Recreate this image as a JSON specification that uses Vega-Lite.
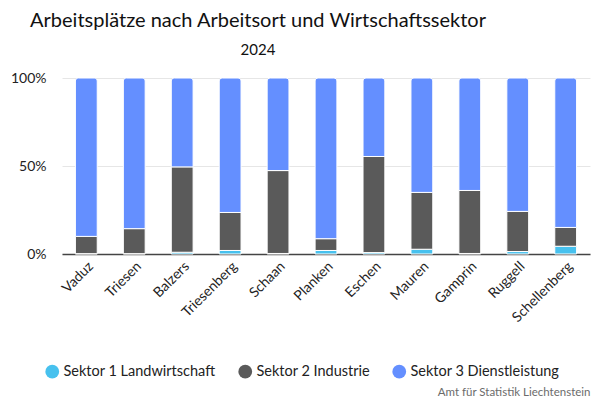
{
  "$schema": "https://vega.github.io/schema/vega-lite/v6.json",
  "background": "white",
  "padding": {"left": 9, "right": 6, "top": 10, "bottom": 1},
  "config": {
    "view": {"stroke": "transparent"},
    "font": "Lato"
  },
  "title": {
    "text": "Amt für Statistik Liechtenstein",
    "orient": "bottom",
    "anchor": "end",
    "fontSize": 11.5,
    "fontWeight": "normal",
    "color": "#6b6b6b",
    "offset": 8
  },
  "data": {
    "values": [
      {"ort": "Vaduz", "sektor": "Sektor 1 Landwirtschaft", "anteil": 0.2},
      {"ort": "Vaduz", "sektor": "Sektor 2 Industrie", "anteil": 9.8},
      {"ort": "Vaduz", "sektor": "Sektor 3 Dienstleistung", "anteil": 90.0},
      {"ort": "Triesen", "sektor": "Sektor 1 Landwirtschaft", "anteil": 0.2},
      {"ort": "Triesen", "sektor": "Sektor 2 Industrie", "anteil": 14.2},
      {"ort": "Triesen", "sektor": "Sektor 3 Dienstleistung", "anteil": 85.6},
      {"ort": "Balzers", "sektor": "Sektor 1 Landwirtschaft", "anteil": 1.0},
      {"ort": "Balzers", "sektor": "Sektor 2 Industrie", "anteil": 48.5},
      {"ort": "Balzers", "sektor": "Sektor 3 Dienstleistung", "anteil": 50.5},
      {"ort": "Triesenberg", "sektor": "Sektor 1 Landwirtschaft", "anteil": 2.0},
      {"ort": "Triesenberg", "sektor": "Sektor 2 Industrie", "anteil": 21.6},
      {"ort": "Triesenberg", "sektor": "Sektor 3 Dienstleistung", "anteil": 76.4},
      {"ort": "Schaan", "sektor": "Sektor 1 Landwirtschaft", "anteil": 0.3},
      {"ort": "Schaan", "sektor": "Sektor 2 Industrie", "anteil": 47.1},
      {"ort": "Schaan", "sektor": "Sektor 3 Dienstleistung", "anteil": 52.6},
      {"ort": "Planken", "sektor": "Sektor 1 Landwirtschaft", "anteil": 2.0},
      {"ort": "Planken", "sektor": "Sektor 2 Industrie", "anteil": 6.7},
      {"ort": "Planken", "sektor": "Sektor 3 Dienstleistung", "anteil": 91.3},
      {"ort": "Eschen", "sektor": "Sektor 1 Landwirtschaft", "anteil": 0.8},
      {"ort": "Eschen", "sektor": "Sektor 2 Industrie", "anteil": 54.6},
      {"ort": "Eschen", "sektor": "Sektor 3 Dienstleistung", "anteil": 44.6},
      {"ort": "Mauren", "sektor": "Sektor 1 Landwirtschaft", "anteil": 2.7},
      {"ort": "Mauren", "sektor": "Sektor 2 Industrie", "anteil": 32.3},
      {"ort": "Mauren", "sektor": "Sektor 3 Dienstleistung", "anteil": 65.0},
      {"ort": "Gamprin", "sektor": "Sektor 1 Landwirtschaft", "anteil": 0.3},
      {"ort": "Gamprin", "sektor": "Sektor 2 Industrie", "anteil": 35.8},
      {"ort": "Gamprin", "sektor": "Sektor 3 Dienstleistung", "anteil": 63.9},
      {"ort": "Ruggell", "sektor": "Sektor 1 Landwirtschaft", "anteil": 1.4},
      {"ort": "Ruggell", "sektor": "Sektor 2 Industrie", "anteil": 22.8},
      {"ort": "Ruggell", "sektor": "Sektor 3 Dienstleistung", "anteil": 75.8},
      {"ort": "Schellenberg", "sektor": "Sektor 1 Landwirtschaft", "anteil": 4.4},
      {"ort": "Schellenberg", "sektor": "Sektor 2 Industrie", "anteil": 10.7},
      {"ort": "Schellenberg", "sektor": "Sektor 3 Dienstleistung", "anteil": 84.9}
    ]
  },
  "vconcat": [
    {
      "width": 528,
      "height": 176,
      "title": {
        "text": "Arbeitsplätze nach Arbeitsort und Wirtschaftssektor",
        "subtitle": "2024",
        "anchor": "middle",
        "frame": "group",
        "dx": -68,
        "fontSize": 20,
        "fontWeight": "normal",
        "color": "#111111",
        "subtitleFontSize": 15,
        "subtitleColor": "#111111",
        "subtitlePadding": 12,
        "offset": 13
      },
      "transform": [
        {
          "stack": "anteil",
          "groupby": ["ort"],
          "sort": [{"field": "sektor", "order": "ascending"}],
          "offset": "normalize",
          "as": ["y0", "y1"]
        }
      ],
      "encoding": {
        "x": {
          "field": "ort",
          "type": "nominal",
          "sort": null,
          "title": null,
          "scale": {"paddingInner": 0.545, "paddingOuter": 0.28},
          "axis": {
            "labelAngle": -45,
            "labelFontSize": 14,
            "labelColor": "#222222",
            "labelPadding": 5,
            "ticks": false,
            "domainColor": "#444444",
            "domainWidth": 1.5
          }
        },
        "y": {
          "field": "y1",
          "type": "quantitative",
          "title": null,
          "scale": {"domain": [0, 1]},
          "axis": {
            "values": [0, 0.5, 1],
            "format": ".0%",
            "domain": false,
            "ticks": false,
            "labelFontSize": 14,
            "labelColor": "#222222",
            "labelPadding": 16,
            "gridColor": "#e6e6e6"
          }
        },
        "y2": {"field": "y0"},
        "color": {
          "field": "sektor",
          "type": "nominal",
          "scale": {
            "domain": ["Sektor 1 Landwirtschaft", "Sektor 2 Industrie", "Sektor 3 Dienstleistung"],
            "range": ["#47c1ee", "#5a5a5a", "#648fff"]
          },
          "legend": {
            "orient": "none",
            "legendX": -17,
            "legendY": 286,
            "direction": "horizontal",
            "title": null,
            "symbolType": "circle",
            "symbolSize": 190,
            "symbolStrokeWidth": 0,
            "labelFontSize": 14.5,
            "labelColor": "#222222",
            "columnPadding": 22
          }
        }
      },
      "layer": [
        {
          "transform": [{"filter": "datum.sektor != 'Sektor 3 Dienstleistung'"}],
          "mark": {"type": "bar", "stroke": "white", "strokeWidth": 1}
        },
        {
          "transform": [{"filter": "datum.sektor == 'Sektor 3 Dienstleistung'"}],
          "mark": {
            "type": "bar",
            "stroke": "white",
            "strokeWidth": 1,
            "cornerRadiusTopLeft": 3,
            "cornerRadiusTopRight": 3
          }
        }
      ]
    }
  ]
}
